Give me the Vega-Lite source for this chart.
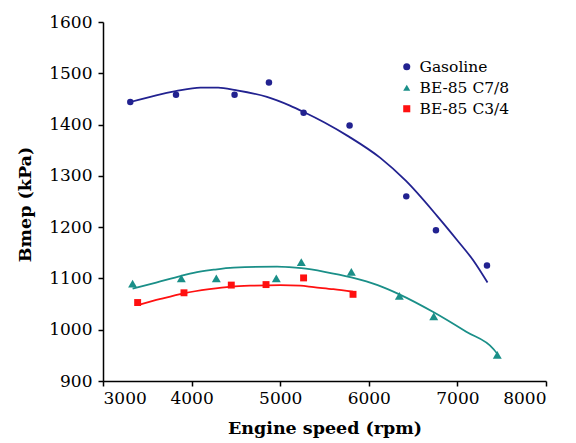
{
  "$schema": "https://vega.github.io/schema/vega-lite/v6.json",
  "width": 443,
  "height": 359,
  "autosize": {"type": "none"},
  "padding": {"left": 103, "top": 22, "right": 30, "bottom": 62},
  "background": "white",
  "config": {
    "font": "DejaVu Serif",
    "view": {"stroke": null},
    "axis": {
      "grid": false,
      "domainColor": "black",
      "domainWidth": 1.5,
      "tickColor": "black",
      "tickWidth": 1.5,
      "tickSize": 5,
      "labelFont": "DejaVu Serif",
      "labelFontSize": 17,
      "labelColor": "black",
      "titleFont": "DejaVu Serif",
      "titleFontSize": 17.5,
      "titleFontWeight": "bold",
      "titleColor": "black"
    },
    "legend": {
      "orient": "none",
      "legendX": 296,
      "legendY": 37,
      "rowPadding": 4,
      "labelOffset": 5,
      "symbolSize": 50,
      "symbolStrokeWidth": 0,
      "labelFont": "DejaVu Serif",
      "labelFontSize": 15.5,
      "labelColor": "black"
    }
  },
  "datasets": {
    "pts": [
      {"series": "Gasoline", "rpm": 3308, "bmep": 1444},
      {"series": "Gasoline", "rpm": 3824, "bmep": 1458},
      {"series": "Gasoline", "rpm": 4485, "bmep": 1458},
      {"series": "Gasoline", "rpm": 4873, "bmep": 1482},
      {"series": "Gasoline", "rpm": 5264, "bmep": 1423},
      {"series": "Gasoline", "rpm": 5783, "bmep": 1398},
      {"series": "Gasoline", "rpm": 6423, "bmep": 1260},
      {"series": "Gasoline", "rpm": 6758, "bmep": 1194},
      {"series": "Gasoline", "rpm": 7334, "bmep": 1125},
      {"series": "BE-85 C7/8", "rpm": 3334, "bmep": 1090},
      {"series": "BE-85 C7/8", "rpm": 3884, "bmep": 1100},
      {"series": "BE-85 C7/8", "rpm": 4279, "bmep": 1100},
      {"series": "BE-85 C7/8", "rpm": 4956, "bmep": 1100},
      {"series": "BE-85 C7/8", "rpm": 5238, "bmep": 1132},
      {"series": "BE-85 C7/8", "rpm": 5803, "bmep": 1113},
      {"series": "BE-85 C7/8", "rpm": 6345, "bmep": 1066},
      {"series": "BE-85 C7/8", "rpm": 6733, "bmep": 1026},
      {"series": "BE-85 C7/8", "rpm": 7450, "bmep": 951},
      {"series": "BE-85 C3/4", "rpm": 3391, "bmep": 1053},
      {"series": "BE-85 C3/4", "rpm": 3914, "bmep": 1072},
      {"series": "BE-85 C3/4", "rpm": 4448, "bmep": 1087},
      {"series": "BE-85 C3/4", "rpm": 4840, "bmep": 1088},
      {"series": "BE-85 C3/4", "rpm": 5264, "bmep": 1101},
      {"series": "BE-85 C3/4", "rpm": 5822, "bmep": 1069}
    ],
    "fit": [
      {"series": "Gasoline", "rpm": 3310, "bmep": 1444},
      {"series": "Gasoline", "rpm": 3600, "bmep": 1457},
      {"series": "Gasoline", "rpm": 3820, "bmep": 1465},
      {"series": "Gasoline", "rpm": 4100, "bmep": 1472},
      {"series": "Gasoline", "rpm": 4300, "bmep": 1472},
      {"series": "Gasoline", "rpm": 4500, "bmep": 1467},
      {"series": "Gasoline", "rpm": 4850, "bmep": 1454},
      {"series": "Gasoline", "rpm": 5110, "bmep": 1437},
      {"series": "Gasoline", "rpm": 5260, "bmep": 1425},
      {"series": "Gasoline", "rpm": 5500, "bmep": 1404},
      {"series": "Gasoline", "rpm": 5780, "bmep": 1376},
      {"series": "Gasoline", "rpm": 6130, "bmep": 1335},
      {"series": "Gasoline", "rpm": 6420, "bmep": 1290},
      {"series": "Gasoline", "rpm": 6770, "bmep": 1222},
      {"series": "Gasoline", "rpm": 7000, "bmep": 1174},
      {"series": "Gasoline", "rpm": 7180, "bmep": 1135},
      {"series": "Gasoline", "rpm": 7340, "bmep": 1092},
      {"series": "BE-85 C7/8", "rpm": 3334, "bmep": 1080},
      {"series": "BE-85 C7/8", "rpm": 3600, "bmep": 1092},
      {"series": "BE-85 C7/8", "rpm": 3884, "bmep": 1105},
      {"series": "BE-85 C7/8", "rpm": 4023, "bmep": 1111},
      {"series": "BE-85 C7/8", "rpm": 4250, "bmep": 1117},
      {"series": "BE-85 C7/8", "rpm": 4474, "bmep": 1121},
      {"series": "BE-85 C7/8", "rpm": 4964, "bmep": 1123},
      {"series": "BE-85 C7/8", "rpm": 5100, "bmep": 1122},
      {"series": "BE-85 C7/8", "rpm": 5238, "bmep": 1120},
      {"series": "BE-85 C7/8", "rpm": 5500, "bmep": 1113},
      {"series": "BE-85 C7/8", "rpm": 5803, "bmep": 1102},
      {"series": "BE-85 C7/8", "rpm": 6100, "bmep": 1087},
      {"series": "BE-85 C7/8", "rpm": 6345, "bmep": 1069},
      {"series": "BE-85 C7/8", "rpm": 6733, "bmep": 1034},
      {"series": "BE-85 C7/8", "rpm": 7100, "bmep": 996},
      {"series": "BE-85 C7/8", "rpm": 7409, "bmep": 962},
      {"series": "BE-85 C7/8", "rpm": 7450, "bmep": 953},
      {"series": "BE-85 C3/4", "rpm": 3391, "bmep": 1048},
      {"series": "BE-85 C3/4", "rpm": 3650, "bmep": 1060},
      {"series": "BE-85 C3/4", "rpm": 3914, "bmep": 1071},
      {"series": "BE-85 C3/4", "rpm": 4200, "bmep": 1079},
      {"series": "BE-85 C3/4", "rpm": 4448, "bmep": 1084},
      {"series": "BE-85 C3/4", "rpm": 4700, "bmep": 1086},
      {"series": "BE-85 C3/4", "rpm": 5001, "bmep": 1087},
      {"series": "BE-85 C3/4", "rpm": 5227, "bmep": 1086},
      {"series": "BE-85 C3/4", "rpm": 5377, "bmep": 1083},
      {"series": "BE-85 C3/4", "rpm": 5600, "bmep": 1079},
      {"series": "BE-85 C3/4", "rpm": 5822, "bmep": 1074}
    ]
  },
  "encoding": {
    "x": {
      "field": "rpm", "type": "quantitative",
      "scale": {"domain": [3000, 8000], "nice": false, "zero": false},
      "axis": {"values": [3000, 4000, 5000, 6000, 7000, 8000], "format": "d", "labelPadding": 4, "title": "Engine speed (rpm)", "titleY": 38, "titleBaseline": "top"}
    },
    "y": {
      "field": "bmep", "type": "quantitative",
      "scale": {"domain": [900, 1600], "nice": false, "zero": false},
      "axis": {"values": [900, 1000, 1100, 1200, 1300, 1400, 1500, 1600], "format": "d", "labelPadding": 6, "title": "Bmep (kPa)", "titleX": -69, "titleY": 182}
    }
  },
  "layer": [
    {
      "data": {"name": "fit"},
      "transform": [{"filter": "datum.series === 'Gasoline'"}],
      "mark": {"type": "line", "strokeWidth": 1.8, "interpolate": "monotone", "color": "#222290"},
      "encoding": {}
    },
    {
      "data": {"name": "fit"},
      "transform": [{"filter": "datum.series === 'BE-85 C7/8'"}],
      "mark": {"type": "line", "strokeWidth": 1.8, "interpolate": "monotone", "color": "#1a8f88"},
      "encoding": {}
    },
    {
      "data": {"name": "fit"},
      "transform": [{"filter": "datum.series === 'BE-85 C3/4'"}],
      "mark": {"type": "line", "strokeWidth": 1.8, "interpolate": "monotone", "color": "#ff1010"},
      "encoding": {}
    },
    {
      "data": {"name": "pts"},
      "transform": [{"filter": "datum.series === 'Gasoline'"}],
      "mark": {"type": "point", "filled": true, "opacity": 1, "size": 42},
      "encoding": {
        "color": {
          "field": "series", "type": "nominal", "legend": {"title": null},
          "scale": {"domain": ["Gasoline", "BE-85 C7/8", "BE-85 C3/4"], "range": ["#222290", "#1a8f88", "#ff1010"]}
        },
        "shape": {
          "field": "series", "type": "nominal", "legend": {"title": null},
          "scale": {"domain": ["Gasoline", "BE-85 C7/8", "BE-85 C3/4"], "range": ["circle", "triangle-up", "square"]}
        }
      }
    },
    {
      "data": {"name": "pts"},
      "transform": [{"filter": "datum.series === 'BE-85 C7/8'"}],
      "mark": {"type": "point", "filled": true, "opacity": 1, "size": 80},
      "encoding": {
        "color": {
          "field": "series", "type": "nominal", "legend": {"title": null},
          "scale": {"domain": ["Gasoline", "BE-85 C7/8", "BE-85 C3/4"], "range": ["#222290", "#1a8f88", "#ff1010"]}
        },
        "shape": {
          "field": "series", "type": "nominal", "legend": {"title": null},
          "scale": {"domain": ["Gasoline", "BE-85 C7/8", "BE-85 C3/4"], "range": ["circle", "triangle-up", "square"]}
        }
      }
    },
    {
      "data": {"name": "pts"},
      "transform": [{"filter": "datum.series === 'BE-85 C3/4'"}],
      "mark": {"type": "point", "filled": true, "opacity": 1, "size": 48},
      "encoding": {
        "color": {
          "field": "series", "type": "nominal", "legend": {"title": null},
          "scale": {"domain": ["Gasoline", "BE-85 C7/8", "BE-85 C3/4"], "range": ["#222290", "#1a8f88", "#ff1010"]}
        },
        "shape": {
          "field": "series", "type": "nominal", "legend": {"title": null},
          "scale": {"domain": ["Gasoline", "BE-85 C7/8", "BE-85 C3/4"], "range": ["circle", "triangle-up", "square"]}
        }
      }
    }
  ]
}
